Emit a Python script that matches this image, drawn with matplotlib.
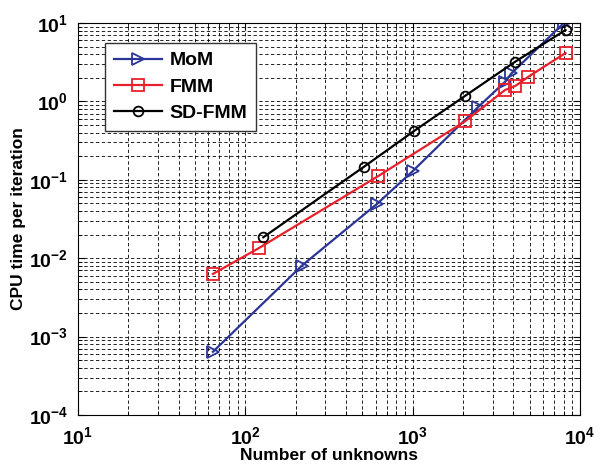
import matplotlib
matplotlib.use('Agg')
import matplotlib.pyplot as plt
from matplotlib.ticker import LogLocator, FixedLocator, NullFormatter

plt.rcParams['font.family'] = ['Liberation Sans', 'DejaVu Sans']
plt.rcParams['font.weight'] = 'bold'
plt.rcParams['mathtext.fontset'] = 'custom'
plt.rcParams['mathtext.rm'] = 'Liberation Sans:bold'
plt.rcParams['mathtext.bf'] = 'Liberation Sans:bold'

# data
mom_n = [64, 217, 610, 1000, 2470, 3565, 3890, 8000]
mom_t = [6.4e-4, 8.0e-3, 0.049, 0.129, 0.855, 1.78, 2.28, 10.0]

fmm_n = [64, 120, 624, 2048, 3565, 4096, 4920, 8192]
fmm_t = [6.3e-3, 0.0134, 0.112, 0.555, 1.40, 1.57, 2.07, 4.14]

sd_n = [128, 512, 1024, 2048, 4096, 8192]
sd_t = [0.0185, 0.147, 0.423, 1.17, 3.21, 8.14]

x_decades = [1, 2, 3, 4]
y_decades = [-4, -3, -2, -1, 0, 1]

fig = plt.figure(figsize=(6.02, 4.70), dpi=100)
ax = fig.add_axes([0.1296, 0.117, 0.8339, 0.834])

ax.plot(mom_n, mom_t, color='#2a3596', lw=1.6, marker='>', ms=9,
        mfc='none', mec='#2a3596', mew=1.3, label='MoM')
ax.plot(fmm_n, fmm_t, color='#e8202a', lw=1.6, marker='s', ms=8,
        mfc='none', mec='#e8202a', mew=1.3, label='FMM')
ax.plot(sd_n, sd_t, color='black', lw=1.6, marker='o', ms=7,
        mfc='none', mec='black', mew=1.3, label='SD-FMM')

ax.set_xscale('log')
ax.set_yscale('log')
ax.set_xlim(10 ** x_decades[0], 10 ** x_decades[-1])
ax.set_ylim(10 ** y_decades[0], 10 ** y_decades[-1])

ax.xaxis.set_major_locator(FixedLocator([10 ** k for k in x_decades]))
ax.yaxis.set_major_locator(FixedLocator([10 ** k for k in y_decades]))
ax.set_xticklabels([r'$\mathbf{10^{%d}}$' % k for k in x_decades])
ax.set_yticklabels([r'$\mathbf{10^{%d}}$' % k for k in y_decades])
ax.xaxis.set_minor_locator(LogLocator(base=10, subs=range(2, 10), numticks=20))
ax.yaxis.set_minor_locator(LogLocator(base=10, subs=range(2, 10), numticks=20))
ax.xaxis.set_minor_formatter(NullFormatter())
ax.yaxis.set_minor_formatter(NullFormatter())

ax.tick_params(which='both', direction='in', top=True, right=True)
ax.tick_params(which='major', length=5, labelsize=14)
ax.tick_params(axis='x', which='major', pad=8)
ax.tick_params(axis='y', which='major', pad=7)
ax.tick_params(which='minor', length=3)

ax.grid(True, which='both', color='black', linestyle=(0, (4, 3)), linewidth=0.6)
ax.set_axisbelow(True)

ax.set_xlabel('Number of unknowns', fontsize=12.5, fontweight='bold', labelpad=0)
ax.set_ylabel('CPU time per iteration', fontsize=12.5, fontweight='bold', labelpad=2)

leg = ax.legend(loc='upper left', bbox_to_anchor=(0.054, 0.949), borderaxespad=0,
                fancybox=False, framealpha=1, edgecolor='#333333',
                prop={'size': 14, 'weight': 'bold'}, handlelength=2.5,
                handletextpad=0.35, labelspacing=0.45, borderpad=0.45)
leg.get_frame().set_linewidth(1.0)

fig.savefig('out.png', dpi=100)
